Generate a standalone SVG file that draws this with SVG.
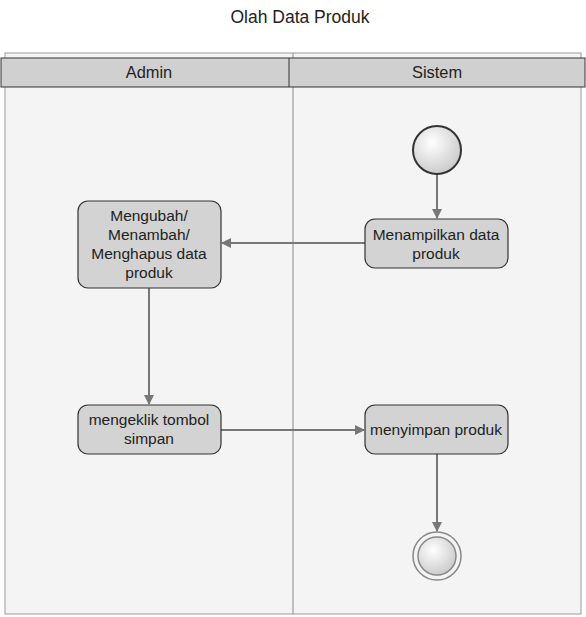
<svg xmlns="http://www.w3.org/2000/svg" width="586" height="617" viewBox="0 0 586 617">
<defs>
<style>
.t{font-family:"Liberation Sans",Arial,sans-serif;font-size:15.5px;fill:#222;text-anchor:middle}
.node{fill:#d3d3d3;stroke:#333;stroke-width:1.2}
.edge{stroke:#777;stroke-width:2;fill:none}
</style>
<marker id="ah" markerWidth="10" markerHeight="10" refX="9" refY="5" orient="auto" markerUnits="userSpaceOnUse">
<path d="M0,0 L10,5 L0,10 z" fill="#777"/>
</marker>
<radialGradient id="g" cx="0.4" cy="0.35" r="0.7">
<stop offset="0" stop-color="#ffffff"/>
<stop offset="1" stop-color="#c8c8c8"/>
</radialGradient>
</defs>
<rect width="586" height="617" fill="#ffffff"/>
<text class="t" x="300" y="23" style="font-size:17.5px">Olah Data Produk</text>
<g id="lanes">
<rect x="5" y="53" width="576" height="561" fill="#f4f4f4" stroke="#aaa" stroke-width="1.2"/>
<line x1="293" y1="53" x2="293" y2="614" stroke="#999" stroke-width="1.2"/>
<rect x="1" y="58" width="584" height="29" fill="#d0d0d0" stroke="#333" stroke-width="1"/>
<line x1="289" y1="58" x2="289" y2="87" stroke="#333" stroke-width="1"/>
<text class="t" x="149" y="78" style="font-size:16.4px">Admin</text>
<text class="t" x="437" y="78" style="font-size:16.4px">Sistem</text>
</g>
<g id="connectors">
<line class="edge" x1="437" y1="174" x2="437" y2="218" marker-end="url(#ah)"/>
<line class="edge" x1="365" y1="243" x2="222" y2="243" marker-end="url(#ah)"/>
<line class="edge" x1="149" y1="288" x2="149" y2="404" marker-end="url(#ah)"/>
<line class="edge" x1="221" y1="430" x2="364" y2="430" marker-end="url(#ah)"/>
<line class="edge" x1="437" y1="454" x2="437" y2="531" marker-end="url(#ah)"/>
</g>
<g id="start">
<circle cx="437" cy="150" r="24" fill="url(#g)" stroke="#333" stroke-width="2"/>
</g>
<g id="menampilkan">
<rect class="node" x="365" y="219" width="143" height="49" rx="10"/>
<text class="t" x="436" y="240">Menampilkan data</text>
<text class="t" x="436" y="259">produk</text>
</g>
<g id="mengubah">
<rect class="node" x="78" y="201" width="143" height="87" rx="10"/>
<text class="t" x="149" y="221">Mengubah/</text>
<text class="t" x="149" y="240">Menambah/</text>
<text class="t" x="149" y="259">Menghapus data</text>
<text class="t" x="149" y="278">produk</text>
</g>
<g id="mengeklik">
<rect class="node" x="78" y="405" width="143" height="49" rx="10"/>
<text class="t" x="149" y="425">mengeklik tombol</text>
<text class="t" x="149" y="444">simpan</text>
</g>
<g id="menyimpan">
<rect class="node" x="365" y="405" width="143" height="49" rx="10"/>
<text class="t" x="436" y="435">menyimpan produk</text>
</g>
<g id="end">
<circle cx="437" cy="556" r="24" fill="#f4f4f4" stroke="#888" stroke-width="1.5"/>
<circle cx="437" cy="556" r="19" fill="url(#g)" stroke="#888" stroke-width="1.5"/>
</g>
</svg>
